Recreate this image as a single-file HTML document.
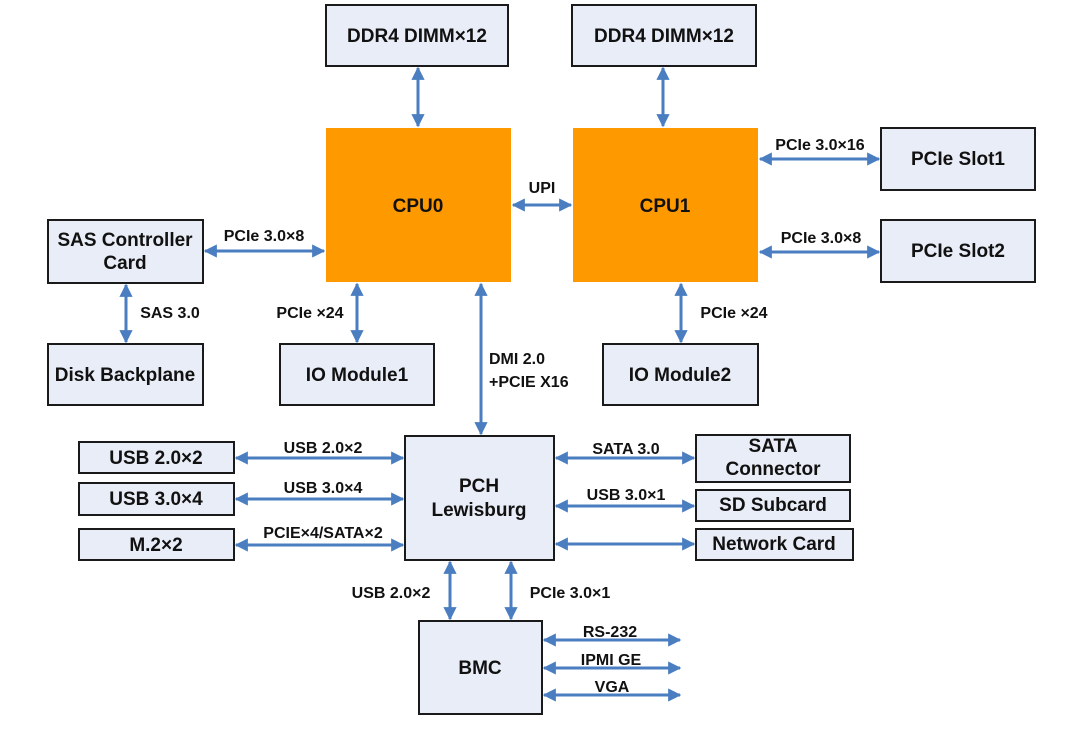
<!DOCTYPE html>
<html><head><meta charset="utf-8"><style>
html,body{margin:0;padding:0;background:#fff;}
svg{display:block;}
text{font-family:"Liberation Sans",Arial,sans-serif;font-weight:bold;fill:#111;}
</style></head><body>
<svg width="1080" height="733" viewBox="0 0 1080 733" xmlns="http://www.w3.org/2000/svg">
<defs>
<marker id="a" viewBox="0 0 10 10" refX="9" refY="5" markerWidth="5" markerHeight="4.4" orient="auto-start-reverse" markerUnits="strokeWidth">
<path d="M0,0 L10,5 L0,10 z" fill="#4A7EC0"/>
</marker>
</defs>
<g fill="#E9EDF7" stroke="#1a1a1a" stroke-width="2">
<rect x="326" y="5" width="182" height="61"/>
<rect x="572" y="5" width="184" height="61"/>
<rect x="881" y="128" width="154" height="62"/>
<rect x="881" y="220" width="154" height="62"/>
<rect x="48" y="220" width="155" height="63"/>
<rect x="48" y="344" width="155" height="61"/>
<rect x="280" y="344" width="154" height="61"/>
<rect x="603" y="344" width="155" height="61"/>
<rect x="405" y="436" width="149" height="124"/>
<rect x="79" y="442" width="155" height="31"/>
<rect x="79" y="483" width="155" height="32"/>
<rect x="79" y="529" width="155" height="31"/>
<rect x="696" y="435" width="154" height="47"/>
<rect x="696" y="490" width="154" height="31"/>
<rect x="696" y="529" width="157" height="31"/>
<rect x="419" y="621" width="123" height="93"/>
</g>
<rect x="326" y="128" width="185" height="154" fill="#FF9900"/>
<rect x="573" y="128" width="185" height="154" fill="#FF9900"/>
<g stroke="#4A7EC0" stroke-width="3" marker-start="url(#a)" marker-end="url(#a)" fill="none">
<line x1="418" y1="68" x2="418" y2="126"/>
<line x1="663" y1="68" x2="663" y2="126"/>
<line x1="513" y1="205" x2="571" y2="205"/>
<line x1="760" y1="159" x2="879" y2="159"/>
<line x1="760" y1="252" x2="879" y2="252"/>
<line x1="205" y1="251" x2="324" y2="251"/>
<line x1="126" y1="285" x2="126" y2="342"/>
<line x1="357" y1="284" x2="357" y2="342"/>
<line x1="681" y1="284" x2="681" y2="342"/>
<line x1="481" y1="284" x2="481" y2="434"/>
<line x1="236" y1="458" x2="403" y2="458"/>
<line x1="236" y1="499" x2="403" y2="499"/>
<line x1="236" y1="545" x2="403" y2="545"/>
<line x1="556" y1="458" x2="694" y2="458"/>
<line x1="556" y1="506" x2="694" y2="506"/>
<line x1="556" y1="544" x2="694" y2="544"/>
<line x1="450" y1="562" x2="450" y2="619"/>
<line x1="511" y1="562" x2="511" y2="619"/>
<line x1="544" y1="640" x2="680" y2="640"/>
<line x1="544" y1="668" x2="680" y2="668"/>
<line x1="544" y1="695" x2="680" y2="695"/>
</g>
<g font-size="19" text-anchor="middle">
<text x="417" y="42">DDR4 DIMM×12</text>
<text x="664" y="42">DDR4 DIMM×12</text>
<text x="418" y="212">CPU0</text>
<text x="665" y="212">CPU1</text>
<text x="958" y="165">PCIe Slot1</text>
<text x="958" y="257">PCIe Slot2</text>
<text x="125" y="246">SAS Controller</text>
<text x="125" y="269">Card</text>
<text x="125" y="381">Disk Backplane</text>
<text x="357" y="381">IO Module1</text>
<text x="680" y="381">IO Module2</text>
<text x="479" y="492">PCH</text>
<text x="479" y="516">Lewisburg</text>
<text x="156" y="464">USB 2.0×2</text>
<text x="156" y="505">USB 3.0×4</text>
<text x="156" y="551">M.2×2</text>
<text x="773" y="452">SATA</text>
<text x="773" y="475">Connector</text>
<text x="773" y="511">SD Subcard</text>
<text x="774" y="550">Network Card</text>
<text x="480" y="674">BMC</text>
</g>
<g font-size="16" text-anchor="middle">
<text x="542" y="193">UPI</text>
<text x="820" y="150">PCIe 3.0×16</text>
<text x="821" y="243">PCIe 3.0×8</text>
<text x="264" y="241">PCIe 3.0×8</text>
<text x="170" y="318">SAS 3.0</text>
<text x="310" y="318">PCIe ×24</text>
<text x="734" y="318">PCIe ×24</text>
<text x="323" y="453">USB 2.0×2</text>
<text x="323" y="493">USB 3.0×4</text>
<text x="323" y="538">PCIE×4/SATA×2</text>
<text x="626" y="454">SATA 3.0</text>
<text x="626" y="500">USB 3.0×1</text>
<text x="391" y="598">USB 2.0×2</text>
<text x="570" y="598">PCIe 3.0×1</text>
<text x="610" y="637">RS-232</text>
<text x="611" y="665">IPMI GE</text>
<text x="612" y="692">VGA</text>
</g>
<g font-size="16">
<text x="489" y="364">DMI 2.0</text>
<text x="489" y="387">+PCIE X16</text>
</g>
</svg>
</body></html>
